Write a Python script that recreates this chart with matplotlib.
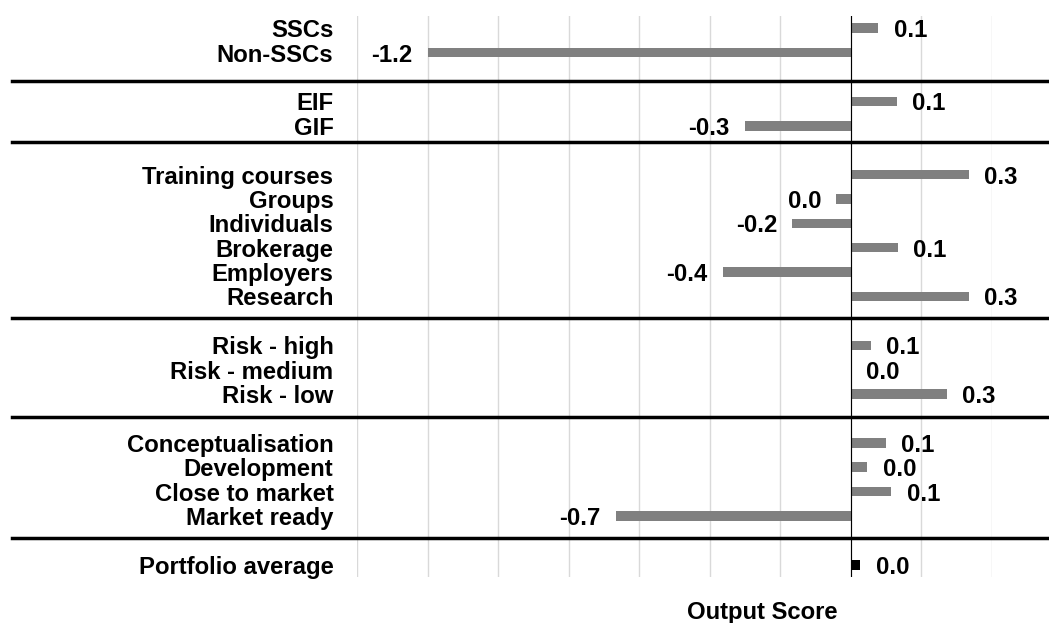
import matplotlib
matplotlib.use("Agg")
import matplotlib.pyplot as plt
import matplotlib.transforms as mtransforms
import numpy as np

plt.rcParams["font.family"] = ["Liberation Sans", "DejaVu Sans"]
plt.rcParams["font.weight"] = "bold"

# Output score by portfolio segment
categories = [
    "SSCs", "Non-SSCs",
    "EIF", "GIF",
    "Training courses", "Groups", "Individuals", "Brokerage", "Employers", "Research",
    "Risk - high", "Risk - medium", "Risk - low",
    "Conceptualisation", "Development", "Close to market", "Market ready",
    "Portfolio average",
]
scores = [
    0.078, -1.2,
    0.131, -0.30,
    0.334, -0.041, -0.166, 0.134, -0.363, 0.334,
    0.056, 0.0, 0.273,
    0.099, 0.047, 0.115, -0.666,
    0.027,
]
group_sizes = [2, 2, 6, 3, 4, 1]
grid_ticks = np.arange(-1.4, 0.41, 0.2)

# one empty slot between groups holds the separator line
positions = []
separators = []
slot = 0
for g, n in enumerate(group_sizes):
    positions.extend(range(slot, slot + n))
    slot += n
    if g < len(group_sizes) - 1:
        separators.append(slot)
        slot += 1
sep_nudge = [0.16, -0.34, -0.1, -0.07, -0.08]

fig = plt.figure(figsize=(10.49, 6.23), dpi=100)
ax = fig.add_axes([357 / 1049, 1 - 577 / 623, 635 / 1049, 561 / 623])

colors = ["#808080"] * (len(scores) - 1) + ["black"]
ax.barh(positions, scores, height=0.39, color=colors, zorder=3)
ax.axvline(0, color="black", lw=0.8, zorder=4)

fs = 17.2
for y, v in zip(positions, scores):
    txt = f"{round(v, 1) + 0.0:.1f}"
    if v >= 0:
        ax.annotate(txt, (v, y), xytext=(11, 0), textcoords="offset points",
                    ha="left", va="center_baseline", fontsize=fs,
                    fontweight="bold", annotation_clip=False)
    else:
        ax.annotate(txt, (v, y), xytext=(-11, 0), textcoords="offset points",
                    ha="right", va="center_baseline", fontsize=fs,
                    fontweight="bold", annotation_clip=False)

# group separators run across the whole figure width
trans = mtransforms.blended_transform_factory(fig.transFigure, ax.transData)
for s, d in zip(separators, sep_nudge):
    ax.plot([12 / 1049, 1.0], [s + d, s + d], color="black", lw=2.5,
            transform=trans, clip_on=False, zorder=5)

ax.set_xlim(-1.4, 0.4)
ax.set_ylim(slot - 0.5, -0.5)
ax.set_xticks(grid_ticks)
ax.set_xticklabels([])
ax.grid(axis="x", color="#d9d9d9", lw=1.0, zorder=0)
ax.set_yticks(positions)
ax.set_yticklabels(categories, fontsize=fs, fontweight="bold")
ax.tick_params(axis="both", length=0)
ax.tick_params(axis="y", pad=17)
for sp in ax.spines.values():
    sp.set_visible(False)

fig.text(762 / 1049, 1 - 612 / 623, "Output Score", ha="center", va="center",
         fontsize=fs, fontweight="bold")

fig.savefig("out.png", dpi=100, facecolor="white")
